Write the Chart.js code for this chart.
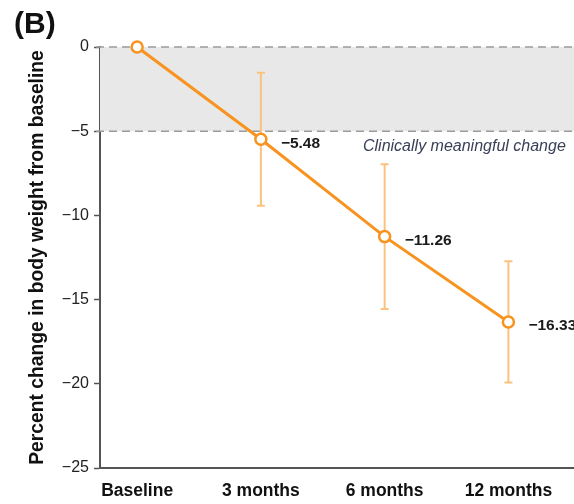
<!DOCTYPE html>
<html>
<head>
<meta charset="utf-8">
<script src="https://cdn.jsdelivr.net/npm/chart.js@4.4.1/dist/chart.umd.min.js"></script>
<style>
  html, body { margin: 0; padding: 0; background: #fff; }
  #wrap { width: 574px; height: 504px; position: relative; }
</style>
</head>
<body>
<div id="wrap"><canvas id="weightChart" width="574" height="504"></canvas></div>
<script>
const FONT = "'Liberation Sans', Arial, Helvetica, sans-serif";

// Data
const categories = ["Baseline", "3 months", "6 months", "12 months"];
const meanChange = [0, -5.48, -11.26, -16.33];
const errLow = [null, -9.43, -15.56, -19.93];
const errHigh = [null, -1.53, -6.96, -12.73];
const pointLabels = ["", "\u22125.48", "\u221211.26", "\u221216.33"];
const yTicks = [0, -5, -10, -15, -20, -25];
const bandTop = 0;
const bandBottom = -5;
const bandText = "Clinically meaningful change";

const ORANGE = "#f7931e";
const ORANGE_LIGHT = "#fbc27e";
const AXIS = "#555";

// Shaded band, dashed lines, error bars (behind the line)
const backdrop = {
  id: "backdrop",
  beforeDatasetsDraw(chart) {
    const { ctx, chartArea, scales } = chart;
    const x = scales.x, y = scales.y;
    const yTop = y.getPixelForValue(bandTop);
    const yBot = y.getPixelForValue(bandBottom);
    ctx.save();
    ctx.fillStyle = "#e8e8e8";
    ctx.fillRect(chartArea.left, yTop, chartArea.right - chartArea.left, yBot - yTop);

    ctx.strokeStyle = "#9a9a9a";
    ctx.lineWidth = 1.5;
    ctx.setLineDash([8, 5]);
    [yTop, yBot].forEach((py) => {
      ctx.beginPath();
      ctx.moveTo(chartArea.left - 4, py);
      ctx.lineTo(chartArea.right, py);
      ctx.stroke();
    });
    ctx.setLineDash([]);

    ctx.strokeStyle = ORANGE_LIGHT;
    ctx.lineWidth = 2;
    meanChange.forEach((v, i) => {
      if (errLow[i] == null) return;
      const px = x.getPixelForValue(i);
      const pLo = y.getPixelForValue(errLow[i]);
      const pHi = y.getPixelForValue(errHigh[i]);
      ctx.beginPath();
      ctx.moveTo(px, pHi);
      ctx.lineTo(px, pLo);
      ctx.moveTo(px - 4, pHi);
      ctx.lineTo(px + 4, pHi);
      ctx.moveTo(px - 4, pLo);
      ctx.lineTo(px + 4, pLo);
      ctx.stroke();
    });
    ctx.restore();
  },
  afterDraw(chart) {
    const { ctx, scales } = chart;
    const x = scales.x, y = scales.y;
    ctx.save();
    // value labels
    ctx.fillStyle = "#1a1a1a";
    ctx.font = "bold 15.5px " + FONT;
    ctx.textBaseline = "middle";
    ctx.textAlign = "left";
    meanChange.forEach((v, i) => {
      if (!pointLabels[i]) return;
      ctx.fillText(pointLabels[i], x.getPixelForValue(i) + 20, y.getPixelForValue(v) + 4);
    });
    // band caption
    ctx.fillStyle = "#3b4058";
    ctx.font = "italic 16px " + FONT;
    ctx.fillText(bandText, 363, y.getPixelForValue(bandBottom) + 15);
    // panel letter
    ctx.fillStyle = "#111";
    ctx.font = "bold 30px " + FONT;
    ctx.textBaseline = "alphabetic";
    ctx.fillText("(B)", 14, 33);
    ctx.restore();
  },
};

new Chart(document.getElementById("weightChart"), {
  type: "line",
  data: {
    datasets: [
      {
        data: meanChange.map((v, i) => ({ x: i, y: v })),
        borderColor: ORANGE,
        borderWidth: 3,
        pointRadius: 5.5,
        pointBorderWidth: 2.5,
        pointBackgroundColor: "#fff",
        pointBorderColor: ORANGE,
        tension: 0,
        clip: false,
      },
    ],
  },
  options: {
    responsive: false,
    animation: false,
    layout: { autoPadding: false, padding: { top: 47, right: 0, left: 0, bottom: 0 } },
    plugins: { legend: { display: false }, tooltip: { enabled: false } },
    scales: {
      x: {
        type: "linear",
        min: -0.3,
        max: 3.53,
        afterBuildTicks: (scale) => {
          scale.ticks = categories.map((c, i) => ({ value: i }));
        },
        afterFit: (scale) => {
          scale.height = 36;
          scale.paddingLeft = 0;
          scale.paddingRight = 0;
        },
        ticks: {
          callback: (v) => categories[v] || "",
          color: "#111",
          font: { family: FONT, size: 17.5, weight: "bold" },
          padding: 13,
          maxRotation: 0,
          autoSkip: false,
        },
        grid: { display: false, drawTicks: false },
        border: { display: true, color: AXIS, width: 2 },
      },
      y: {
        min: -25,
        max: 0,
        afterBuildTicks: (scale) => {
          scale.ticks = yTicks.map((v) => ({ value: v }));
        },
        afterFit: (scale) => {
          scale.width = 100;
        },
        ticks: {
          callback: (v) => (v < 0 ? "\u2212" + Math.abs(v) : String(v)),
          color: "#222",
          font: { family: FONT, size: 16 },
          padding: 5,
        },
        grid: { drawOnChartArea: false, drawTicks: true, tickLength: 6, color: AXIS, tickWidth: 1.5 },
        border: { display: true, color: AXIS, width: 2 },
        title: {
          display: true,
          text: "Percent change in body weight from baseline",
          color: "#111",
          font: { family: FONT, size: 19.3, weight: "bold" },
          padding: { top: 26, bottom: 0 },
        },
      },
    },
  },
  plugins: [backdrop],
});
</script>
</body>
</html>
